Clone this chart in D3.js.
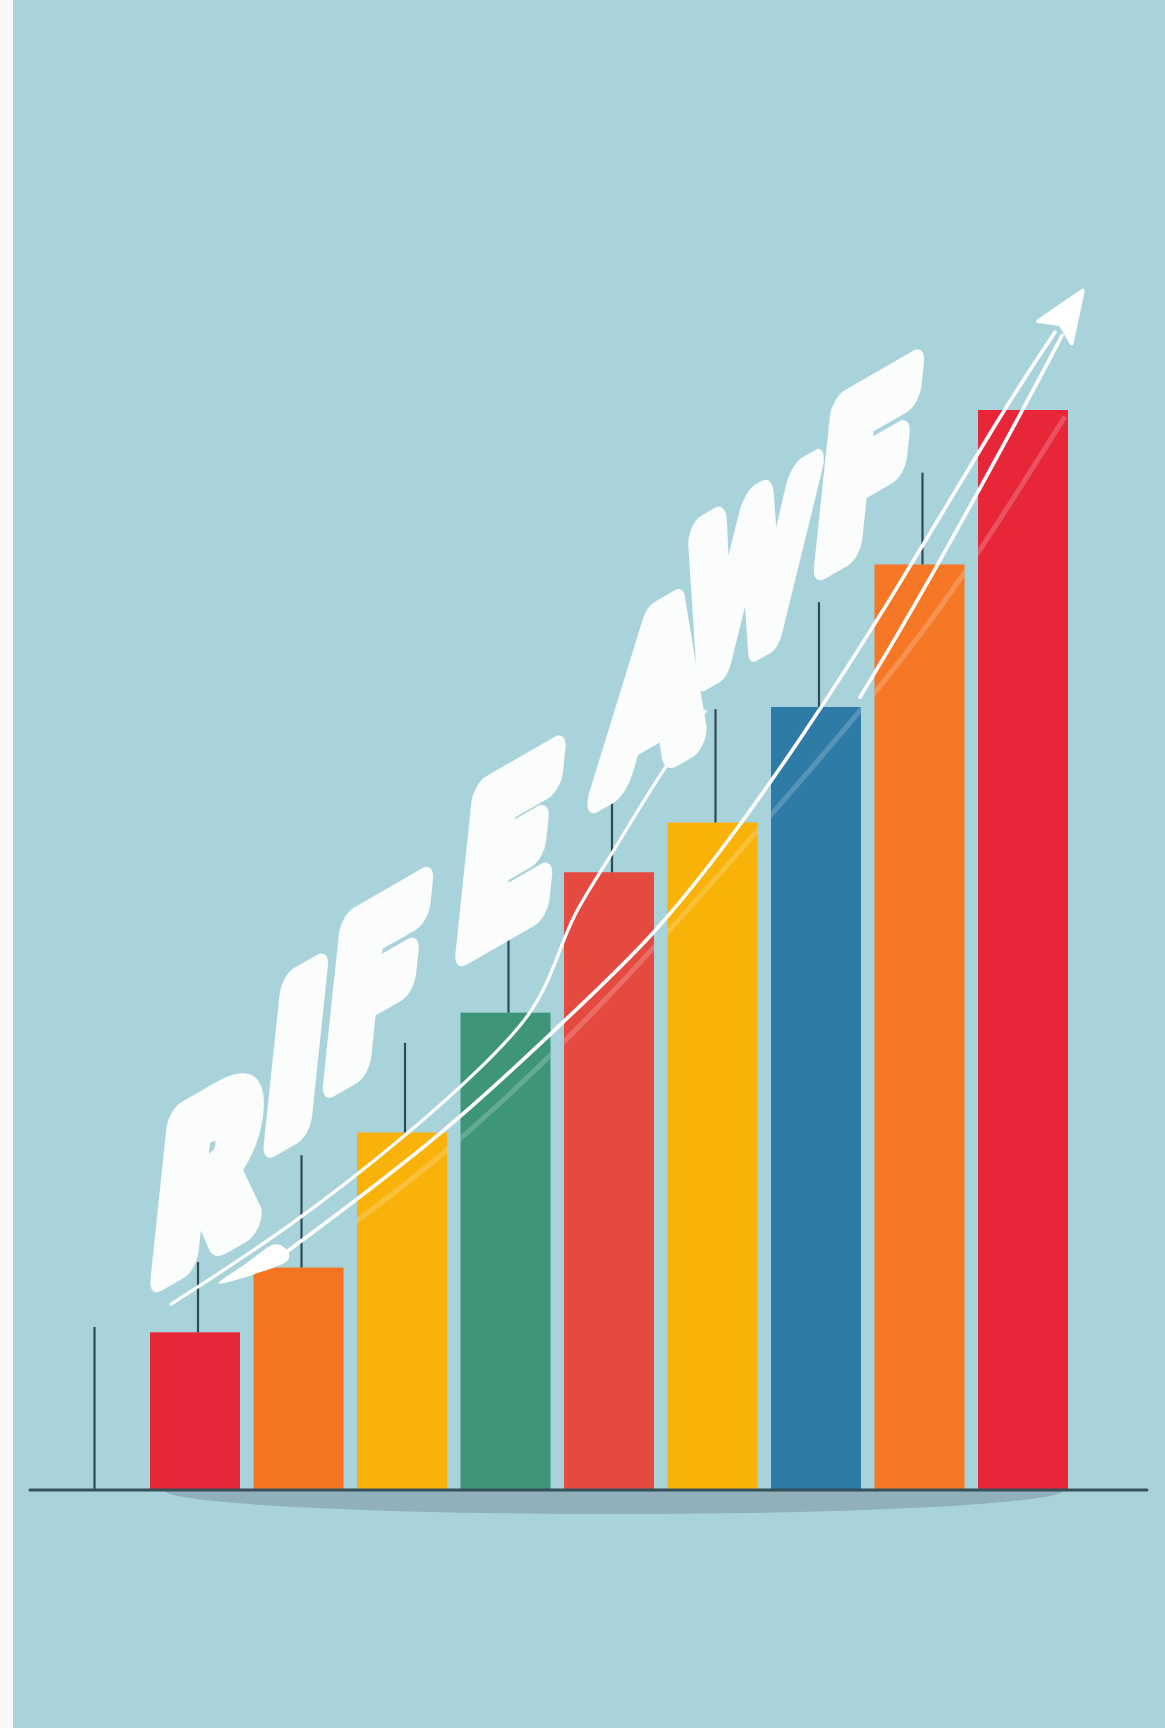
<!DOCTYPE html>
<html><head><meta charset="utf-8">
<script src="https://cdn.jsdelivr.net/npm/d3@7"></script>
<style>html,body{margin:0;padding:0;background:#f7f7fc;} svg{display:block}</style>
</head><body><svg id="c" width="1165" height="1728"></svg>
<script>
// ---- data ----
const categories = ["C0","C1","C2","C3","C4","C5","C6","C7","C8","C9"];
const barValues = [null, 14.6, 20.6, 33.1, 44.2, 57.2, 61.8, 72.5, 85.7, 100];
const whiskerValues = [15.1, 21.1, 31.0, 41.4, 50.9, 65.0, 72.3, 82.2, 94.2, null];
const barColors = [null, "#e62737", "#f47422", "#f8b20a", "#3f957a", "#e54a41", "#f8b208", "#2e7ba7", "#f67826", "#e72638"];
const titleLetters = ["R","I","F","E","A","W","F"];
const letterAnchors = [[1.13,29.6],[1.98,40.7],[2.739,47.3],[4.024,59.5],[5.45,74.5],[6.35,85.0],[7.483,95.2]];
const trendUpper = [[0.768,17.2],[1.918,24.3],[3.058,32.9],[3.850,39.8],[4.285,44.4],[4.478,48.6],[4.643,53.2],[4.961,57.8],[5.493,66.4],[5.928,72.1]];
const trendArrow = [[1.850,21.8],[3.435,33.1],[4.652,44.2],[5.425,51.2],[6.169,60.2],[6.845,69.4],[7.686,81.8],[8.807,100.0],[9.309,107.2]];
const trendArrow2 = [[7.425,73.4],[7.957,81.8],[9.0,100.0],[9.377,106.9]];
const glare = [[2.014,21.1],[3.396,30.6],[5.010,45.4],[6.585,62.7],[7.551,73.4],[8.420,84.3],[9.406,99.4]];

// ---- layout ----
const W = 1165, H = 1728;
const svg = d3.select("#c");
svg.append("rect").attr("x",0).attr("y",0).attr("width",W).attr("height",H).attr("fill","#f7f7fc");
svg.append("rect").attr("x",13).attr("y",0).attr("width",W-13).attr("height",H).attr("fill","#a9d3db");

const x = d3.scaleBand().domain(categories).range([46.5,1068]).paddingInner(0.1304).paddingOuter(0);
const y = d3.scaleLinear().domain([0,100]).range([1490,410]);
const bw = x.bandwidth();
const xi = d3.scaleLinear().domain([0,9]).range([x(categories[0])+bw/2, x(categories[9])+bw/2]);
const P = d => [xi(d[0]), y(d[1])];

// shadow under baseline
const defs = svg.append("defs");
defs.append("clipPath").attr("id","below").append("rect")
  .attr("x",0).attr("y",y(0)).attr("width",W).attr("height",100);
svg.append("ellipse").attr("clip-path","url(#below)")
  .attr("cx",(x("C1")+x("C9")+bw)/2+5).attr("cy",y(0)).attr("rx",450).attr("ry",24)
  .attr("fill","#90b0bb");

const barData = categories.map((c,i)=>({c, v:barValues[i], w:whiskerValues[i], col:barColors[i]}));

// bars
svg.append("g").selectAll("rect").data(barData.filter(d=>d.v!=null)).join("rect")
  .attr("x",d=>x(d.c)).attr("width",bw)
  .attr("y",d=>y(d.v)).attr("height",d=>y(0)-y(d.v))
  .attr("fill",d=>d.col);

// whiskers
svg.append("g").selectAll("line").data(barData.filter(d=>d.w!=null)).join("line")
  .attr("x1",d=>x(d.c)+bw/2+3).attr("x2",d=>x(d.c)+bw/2+3)
  .attr("y1",d=>y(d.v==null?0:d.v)).attr("y2",d=>y(d.w))
  .attr("stroke","#2d4b57").attr("stroke-width",2.2);

// glare clipped to bars
const cp = defs.append("clipPath").attr("id","bars");
cp.selectAll("rect").data(barData.filter(d=>d.v!=null)).join("rect")
  .attr("x",d=>x(d.c)).attr("width",bw).attr("y",d=>y(d.v)).attr("height",d=>y(0)-y(d.v));
const curve = d3.line().curve(d3.curveBasis);
svg.append("path").attr("clip-path","url(#bars)").attr("d",curve(glare.map(P)))
  .attr("fill","none").attr("stroke","#ffffff").attr("stroke-opacity",0.2).attr("stroke-width",5);

// axis line
svg.append("line").attr("x1",30).attr("x2",1147).attr("y1",y(0)).attr("y2",y(0))
  .attr("stroke","#35525c").attr("stroke-width",3).attr("stroke-linecap","round");

// trend lines
svg.append("path").attr("d",curve(trendUpper.map(P)))
  .attr("fill","none").attr("stroke","#ffffff").attr("stroke-width",3.2).attr("stroke-linecap","round");
svg.append("path").attr("d",curve(trendArrow.map(P)))
  .attr("fill","none").attr("stroke","#ffffff").attr("stroke-width",3.6).attr("stroke-linecap","round");
svg.append("path").attr("d",curve(trendArrow2.map(P)))
  .attr("fill","none").attr("stroke","#ffffff").attr("stroke-width",3.6).attr("stroke-linecap","round");

// pen-like blob at start of arrow line
const s0 = P(trendArrow[0]);
const blobOff = [[-75,33],[-40,12],[-18,-6],[-6,-13],[6,-4],[8,6],[-8,13],[-45,25]];
svg.append("path").attr("d", d3.line().curve(d3.curveBasisClosed)(blobOff.map(o=>[s0[0]+o[0], s0[1]+o[1]])))
  .attr("fill","#ffffff");

// arrowhead
const e1 = P(trendArrow[trendArrow.length-1]);
const e0 = P(trendArrow[trendArrow.length-2]);
let dx = e1[0]-e0[0], dy = e1[1]-e0[1]; const L = Math.hypot(dx,dy); dx/=L; dy/=L;
const px = -dy, py = dx;
const tip = [e1[0]+dx*50, e1[1]+dy*50];
const notch = [e1[0]+dx*10, e1[1]+dy*10];
svg.append("path").attr("d", d3.line()([tip,[e1[0]+px*20,e1[1]+py*20],notch,[e1[0]-px*20,e1[1]-py*20]]) + "Z")
  .attr("fill","#ffffff").attr("stroke","#ffffff").attr("stroke-width",4).attr("stroke-linejoin","round");

// title letters
const widthFactor = t => t==="W" ? 0.75 : (t==="A" ? 0.9 : 1.0);
svg.append("g").selectAll("text").data(titleLetters.map((t,i)=>({t,a:letterAnchors[i]}))).join("text")
  .attr("transform",d=>{const p=P(d.a); return `translate(${p[0]},${p[1]}) rotate(-30) skewX(-36) scale(${widthFactor(d.t)},1)`;})
  .attr("text-anchor","middle").attr("dominant-baseline","central")
  .attr("font-family","Lato, 'Open Sans', sans-serif").attr("font-weight",900)
  .attr("font-size",170)
  .attr("fill","#fbfcfc").attr("stroke","#fbfcfc").attr("stroke-width",30).attr("stroke-linejoin","round")
  .text(d=>d.t);
</script></body></html>
